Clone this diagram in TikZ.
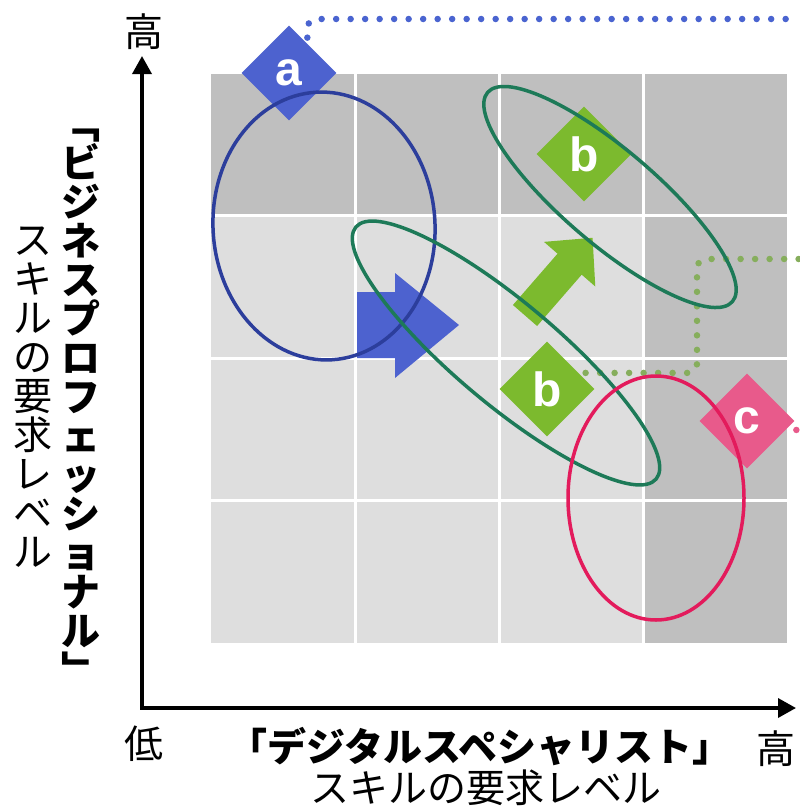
\documentclass[tikz,border=0pt]{standalone}
\usepackage{fontspec}
\usetikzlibrary{shapes.geometric,arrows.meta,calc}
\newfontfamily\jp{Noto Sans CJK JP}
\newfontfamily\lab{Liberation Sans}
\newcommand\vs{\rule[-0.12em]{0pt}{1em}}
\pgfdeclarelayer{bg}
\pgfsetlayers{bg,main}
\definecolor{cellD}{HTML}{BFBFBF}
\definecolor{cellL}{HTML}{DEDEDE}
\definecolor{blueF}{HTML}{4D62CF}
\definecolor{blueE}{HTML}{2C3E9C}
\definecolor{blueD}{HTML}{4A64D0}
\definecolor{greenF}{HTML}{7CBA2E}
\definecolor{greenE}{HTML}{1D7A58}
\definecolor{greenD}{HTML}{86AE5C}
\definecolor{pinkE}{HTML}{E31B5C}
\definecolor{pinkF}{HTML}{E85A8B}
\begin{document}
\begin{tikzpicture}[x=1pt,y=-1pt,
  dia/.style={diamond, minimum width=95pt, minimum height=95pt, inner sep=0pt, text=white, font=\lab\bfseries\fontsize{48}{48}\selectfont},
  ring/.style={line width=3.5pt},
  dots/.style={line width=6.5pt, line cap=round, dash pattern=on 0pt off 14.5pt, rounded corners=9pt},
  axis/.style={line width=3.5pt, {Triangle[length=18pt,width=19pt]}-{Triangle[length=18pt,width=19pt]}},
  jtext/.style={inner sep=0pt, font=\jp\fontsize{39}{39}\selectfont},
  jbold/.style={inner sep=0pt, font=\jp\bfseries\fontsize{39}{39}\selectfont},
  vtext/.style={inner sep=0pt, align=center, font=\jp\fontsize{39}{39}\selectfont},
  vbold/.style={inner sep=0pt, align=center, font=\jp\bfseries\fontsize{39}{39}\selectfont},
]
\useasboundingbox (0,0) rectangle (800,806);
\begin{pgfonlayer}{bg}
\fill[white] (0,0) rectangle (800,806);
\fill[cellL] (211,74) rectangle (787,643);
\fill[cellD] (211,74) rectangle (787,215);
\fill[cellD] (643,74) rectangle (787,643);
\foreach \x in {355,499,643} \draw[white, line width=3pt] (\x,74) -- (\x,643);
\foreach \y in {215,358,500} \draw[white, line width=3pt] (211,\y) -- (787,\y);
\end{pgfonlayer}

% axes
\coordinate (O) at (142,708);
\coordinate (ytop) at (142,56);
\coordinate (xend) at (796,708);
\draw[axis] (ytop) -- (O) -- (xend);

% axis texts
\node[jtext, anchor=base] (hiY) at (144,46) {高};
\node[jtext, anchor=base] (lo) at (144,758) {低};
\node[jtext, anchor=base] (hiX) at (776,763) {高};
\node[jbold, anchor=base] (xl1) at (480,761) {「デジタルスペシャリスト」};
\node[jtext, anchor=base] (xl2) at (486,802) {スキルの要求レベル};
\node[vbold] (yl1) at (81,397) {\vs ﹁\\\vs ビ\\\vs ジ\\\vs ネ\\\vs ス\\\vs プ\\\vs ロ\\\vs フ\\\vs ェ\\\vs ッ\\\vs シ\\\vs ョ\\\vs ナ\\\vs ル\\\vs ﹂};
\node[vtext] (yl2) at (33,396) {\vs ス\\\vs キ\\\vs ル\\\vs の\\\vs 要\\\vs 求\\\vs レ\\\vs ベ\\\vs ル};

% block arrows
\fill[blueF] (357,292) -- (395,292) -- (395,273) -- (459,325) -- (395,378) -- (395,358) -- (357,358) -- cycle;
\fill[greenF, shift={(525,315.5)}, rotate=49] (0,-16) -- (68,-16) -- (68,-34) -- (103,0) -- (68,34) -- (68,16) -- (0,16) -- cycle;

% diamonds
\node[dia, fill=blueF] (a) at (289,73) {a};
\node[dia, fill=greenF] (b1) at (584,154) {b};
\node[dia, fill=greenF] (b2) at (547,389) {b};
\node[dia, fill=pinkF] (c) at (747,421) {c};

% dotted leaders
\coordinate (aend) at (800,19);
\coordinate (gc) at (697,259);
\coordinate (gend) at (800,259);
\coordinate (cend) at (800,431);
\begin{pgfonlayer}{bg}
\draw[dots, blueD, dash phase=8.5pt] (a.58) |- (aend);
\draw[dots, greenD, dash phase=7.5pt] (b2.27) -| (gc) -- (gend);
\draw[dots, pinkF, dash phase=3.9pt] (c.-13) -- (c.-13 -| cend);
\end{pgfonlayer}

% ellipses
\draw[ring, blueE, rotate around={3.4:(324,226)}] (324,226) ellipse [x radius=111pt, y radius=134pt];
\draw[ring, greenE, rotate around={-40.5:(610,197)}] (610,197) ellipse [x radius=161pt, y radius=47pt];
\draw[ring, greenE, rotate around={-40:(506,353)}] (506,353) ellipse [x radius=196pt, y radius=51pt];
\draw[ring, pinkE] (656,498) ellipse [x radius=88pt, y radius=122pt];
\end{tikzpicture}
\end{document}
